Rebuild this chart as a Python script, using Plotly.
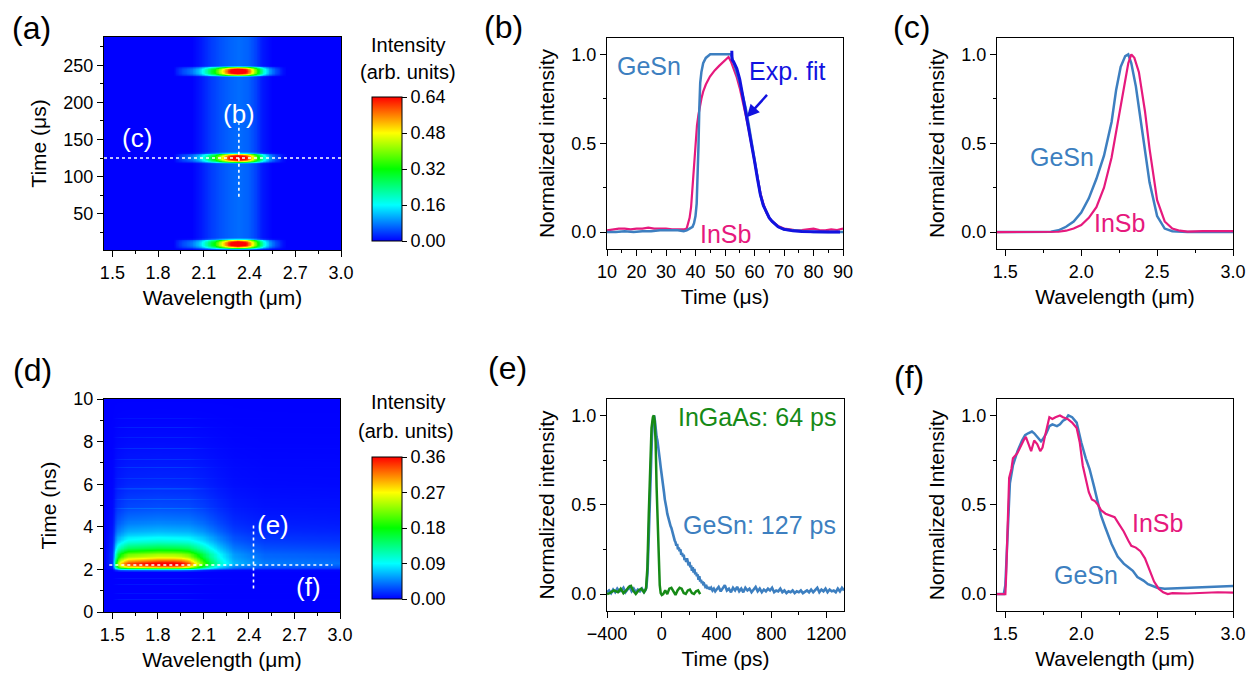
import numpy as np
import plotly.graph_objects as go

# ---------------- data ----------------
# (a) streak map, GeSn detector, microsecond pulses
a_band_wl = [1.445, 2.02, 2.08, 2.14, 2.2, 2.27, 2.33, 2.39, 2.44, 2.48, 2.55, 3.0]
a_band_val = [0.0, 0.0, 0.015, 0.035, 0.05, 0.062, 0.068, 0.06, 0.04, 0.015, 0.0, 0.0]
a_spot_wl = [1.445, 1.9, 1.93, 1.97, 2.02, 2.07, 2.12, 2.17, 2.22, 2.27, 2.32, 2.37, 2.41, 2.45, 2.49, 2.53,
             2.57, 2.61, 2.64, 3.0]
a_spot_val = [0.0, 0.0, 0.04, 0.08, 0.12, 0.18, 0.3, 0.45, 0.68, 0.9, 1.0, 0.92, 0.72, 0.48, 0.28, 0.15, 0.08,
              0.02, 0.0, 0.0]
a_pulse_centers = [9.5, 125.5, 242.0]
a_pulse_dt = [-8, -6, -4.5, -3, 0, 3, 4.5, 6, 8]
a_pulse_w = [0.0, 0.2, 0.7, 0.95, 1.0, 0.95, 0.7, 0.2, 0.0]
a_zmax = 0.64

# (b) temporal traces at 2.33 um
b_time_gesn = [10, 13, 16, 19, 22, 25, 28, 31, 34, 36, 37, 38, 39, 39.5, 40, 40.4, 40.7, 41, 41.3, 41.6, 42,
               42.6, 43.5, 45, 47, 49, 51, 52, 53, 54, 55, 56, 57, 58, 59, 60, 61, 62, 63, 64, 65, 66, 68, 70,
               73, 76, 80, 84, 88, 90]
b_gesn = [0.0, 0.0, 0.005, 0.0, 0.005, 0.005, 0.01, 0.01, 0.01, 0.005, 0.01, 0.02, 0.03, 0.05, 0.09, 0.16,
          0.3, 0.48, 0.7, 0.84, 0.9, 0.95, 0.98, 1.0, 1.0, 1.0, 1.0, 1.0, 0.95, 0.9, 0.84, 0.77, 0.7, 0.61,
          0.51, 0.4, 0.3, 0.21, 0.15, 0.11, 0.08, 0.06, 0.03, 0.015, 0.01, 0.005, 0.0, 0.0, 0.0, 0.0]
b_time_insb = [10, 12, 14, 16, 18, 20, 22, 24, 26, 28, 30, 32, 34, 36, 37, 38, 38.5, 39, 39.5, 40, 40.5, 41,
               41.5, 42, 42.6, 43.5, 44.9, 46.5, 48, 49.4, 50.5, 51.2, 52, 53, 54, 55, 56, 57, 58, 59, 60, 61,
               62, 63, 64, 65, 66, 68, 70, 72, 74, 76, 78, 80, 82, 84, 86, 88, 90]
b_insb = [0.01, 0.015, 0.02, 0.02, 0.015, 0.02, 0.02, 0.025, 0.02, 0.02, 0.02, 0.015, 0.015, 0.015, 0.02,
          0.08, 0.14, 0.25, 0.38, 0.5, 0.6, 0.66, 0.71, 0.75, 0.79, 0.83, 0.875, 0.91, 0.935, 0.958, 0.975,
          0.985, 0.96, 0.92, 0.87, 0.81, 0.74, 0.66, 0.58, 0.49, 0.39, 0.3, 0.22, 0.16, 0.11, 0.08, 0.06,
          0.035, 0.02, 0.015, 0.01, 0.012, 0.015, 0.02, 0.012, 0.01, 0.015, 0.012, 0.02]
b_time_fit = [52.3, 52.4, 53, 54, 55, 56, 57, 58, 59, 60, 61, 62, 63, 64, 65, 66, 68, 70, 73, 76, 80, 85, 89]
b_fit = [1.02, 0.97, 0.955, 0.92, 0.86, 0.77, 0.69, 0.6, 0.51, 0.4, 0.3, 0.21, 0.15, 0.11, 0.08, 0.06, 0.03,
         0.016, 0.007, 0.003, 0.0, 0.0, 0.0]

# (c) spectra at 125 us
c_wl_gesn = [1.445, 1.6, 1.75, 1.8, 1.85, 1.9, 1.95, 2.0, 2.05, 2.1, 2.15, 2.2, 2.23, 2.26, 2.29, 2.31, 2.33,
             2.36, 2.4, 2.45, 2.5, 2.55, 2.6, 2.7, 2.8, 3.0]
c_gesn = [0.0, 0.0, 0.0, 0.002, 0.01, 0.03, 0.06, 0.11, 0.19, 0.3, 0.43, 0.62, 0.8, 0.93, 0.99, 1.0, 0.95,
          0.82, 0.58, 0.28, 0.09, 0.02, 0.005, 0.0, 0.0, 0.0]
c_wl_insb = [1.445, 1.8, 1.85, 1.9, 1.95, 2.0, 2.05, 2.1, 2.15, 2.2, 2.25, 2.28, 2.31, 2.33, 2.35, 2.38, 2.42,
             2.45, 2.5, 2.55, 2.6, 2.65, 2.7, 2.8, 3.0]
c_insb = [0.0, 0.0, 0.002, 0.008, 0.02, 0.04, 0.08, 0.14, 0.25, 0.42, 0.66, 0.82, 0.95, 1.0, 0.98, 0.9, 0.68,
          0.47, 0.18, 0.06, 0.02, 0.008, 0.003, 0.005, 0.005]

# (d) streak map, picosecond pulses
d_core_wl = [1.445, 1.5, 1.52, 1.55, 1.6, 1.7, 1.8, 1.9, 1.95, 2.0, 2.05, 2.1, 2.15, 2.2, 2.3, 2.5, 3.0]
d_core_val = [0.0, 0.0, 0.35, 0.75, 0.88, 0.93, 0.98, 1.0, 0.97, 0.85, 0.62, 0.38, 0.22, 0.13, 0.07, 0.05, 0.05]
d_core_t = [0.0, 1.9, 2.0, 2.1, 2.2, 2.3, 2.45, 2.6, 2.8, 3.0, 3.3, 3.6, 10.0]
d_core_tval = [0.0, 0.0, 0.3, 0.85, 1.0, 0.93, 0.72, 0.5, 0.3, 0.15, 0.05, 0.0, 0.0]
d_tail_wl = [1.445, 1.5, 1.53, 1.6, 1.8, 2.0, 2.1, 2.2, 2.3, 2.5, 3.0]
d_tail_val = [0.0, 0.05, 0.28, 0.4, 0.43, 0.41, 0.34, 0.23, 0.14, 0.09, 0.08]
d_tail_t = [0.0, 1.95, 2.05, 2.3, 2.7, 3.0, 3.4, 3.8, 4.3, 5.0, 6.0, 7.0, 8.0, 9.0, 10.0]
d_tail_tval = [0.0, 0.0, 0.5, 1.0, 0.95, 0.8, 0.6, 0.42, 0.28, 0.17, 0.09, 0.055, 0.025, 0.008, 0.0]
d_streak_t = [0.6, 0.9, 1.3, 1.6, 4.9, 5.3, 5.8, 6.3, 6.8, 7.2, 7.7, 8.2, 8.7, 9.1]
d_streak_amp = [0.01, 0.007, 0.008, 0.007, 0.012, 0.01, 0.012, 0.008, 0.011, 0.01, 0.012, 0.008, 0.01, 0.006]
d_zmax = 0.36

# (e) temporal traces at 2.45 um
e_time_gesn = [-400, -385, -370, -355, -340, -325, -310, -295, -280, -265, -250, -235, -220, -205, -190, -175,
               -160, -145, -130, -120, -112, -104, -96, -88, -80, -72, -64, -56, -50, -44, -38, -32, -26, -20,
               -14, -8, -2, 4, 10, 16, 22, 28, 34, 40, 46, 52, 58, 64, 70, 76, 82, 88, 94, 100, 106, 112, 118,
               124, 130, 136, 142, 148, 154, 160, 166, 172, 178, 184, 190, 196, 202, 208, 214, 220, 226, 232,
               238, 244, 250, 256, 262, 268, 274, 280, 286, 292, 298, 304, 310, 318, 326, 334, 342, 350, 360,
               370, 380, 390, 400, 415, 430, 445, 460, 475, 490, 505, 520, 535, 550, 565, 580, 595, 610, 625,
               640, 655, 670, 685, 700, 715, 730, 745, 760, 775, 790, 805, 820, 835, 850, 865, 880, 895, 910,
               925, 940, 955, 970, 985, 1000, 1015, 1030, 1045, 1060, 1075, 1090, 1105, 1120, 1135, 1150, 1165,
               1180, 1195, 1210, 1225, 1240, 1255, 1270, 1285, 1300, 1315, 1330]
e_gesn = [0.01, 0.02, 0.005, 0.025, 0.01, 0.03, 0.015, 0.02, 0.035, 0.01, 0.025, 0.04, 0.015, 0.03, 0.01, 0.025,
          0.015, 0.03, 0.01, 0.02, 0.04, 0.12, 0.3, 0.52, 0.72, 0.88, 0.97, 1.0, 0.97, 0.9, 0.88, 0.86, 0.83,
          0.78, 0.75, 0.71, 0.68, 0.64, 0.6, 0.57, 0.53, 0.51, 0.48, 0.45, 0.43, 0.41, 0.4, 0.38, 0.37, 0.35,
          0.34, 0.31, 0.3, 0.29, 0.27, 0.28, 0.25, 0.26, 0.24, 0.25, 0.22, 0.23, 0.21, 0.22, 0.19, 0.2, 0.18,
          0.2, 0.17, 0.16, 0.18, 0.15, 0.16, 0.13, 0.15, 0.12, 0.14, 0.11, 0.12, 0.1, 0.11, 0.08, 0.1, 0.07,
          0.08, 0.06, 0.07, 0.05, 0.055, 0.04, 0.045, 0.03, 0.04, 0.025, 0.035, 0.02, 0.03, 0.015, 0.025,
          0.04, 0.015, 0.035, 0.05, 0.02, 0.03, 0.01, 0.035, 0.02, 0.04, 0.015, 0.03, 0.01, 0.035, 0.02, 0.03,
          0.01, 0.025, 0.04, 0.015, 0.03, 0.01, 0.025, 0.015, 0.03, 0.02, 0.035, 0.01, 0.02, 0.015, 0.03,
          0.01, 0.02, 0.005, 0.015, 0.01, 0.02, 0.005, 0.015, 0.01, 0.02, 0.005, 0.015, 0.02, 0.01, 0.025,
          0.01, 0.02, 0.035, 0.01, 0.025, 0.015, 0.03, 0.01, 0.025, 0.015, 0.02, 0.01, 0.03, 0.015, 0.035, 0.02]
e_time_ingaas = [-400, -380, -350, -320, -300, -280, -260, -240, -225, -210, -190, -170, -150, -130, -115, -105,
                 -95, -85, -75, -65, -58, -52, -45, -38, -30, -22, -15, -8, 0, 10, 25, 40, 55, 70, 85, 100, 115,
                 130, 145, 160, 175, 190, 205, 220, 235, 250, 265, 280]
e_ingaas = [0.0, 0.005, 0.02, 0.01, 0.03, 0.005, 0.02, 0.04, 0.045, 0.02, 0.0, 0.02, 0.03, 0.01, 0.03, 0.15,
            0.45, 0.75, 0.93, 0.99, 1.0, 0.97, 0.85, 0.6, 0.35, 0.15, 0.05, 0.005, -0.005, 0.0, 0.02, 0.0,
            0.03, 0.035, 0.015, -0.005, 0.02, 0.035, 0.03, 0.005, 0.0, 0.02, 0.025, 0.005, 0.0, 0.015, 0.02, 0.0]

# (f) spectra at 2.2 ns
f_wl_gesn = [1.445, 1.49, 1.5, 1.51, 1.52, 1.53, 1.55, 1.58, 1.61, 1.63, 1.65, 1.675, 1.69, 1.71, 1.735, 1.75,
             1.77, 1.79, 1.81, 1.84, 1.86, 1.88, 1.9, 1.915, 1.94, 1.97, 2.0, 2.03, 2.055, 2.085, 2.1, 2.13,
             2.16, 2.2, 2.24, 2.28, 2.31, 2.34, 2.37, 2.41, 2.44, 2.5, 2.55, 2.6, 2.7, 2.8, 2.9, 3.0]
f_gesn = [0.0, 0.0, 0.05, 0.25, 0.5, 0.62, 0.72, 0.8, 0.86, 0.89, 0.9, 0.91, 0.9, 0.88, 0.855, 0.87, 0.9,
          0.94, 0.95, 0.94, 0.95, 0.97, 0.98, 1.0, 0.99, 0.96, 0.85, 0.76, 0.7, 0.6, 0.55, 0.44, 0.37, 0.28,
          0.21, 0.17, 0.15, 0.13, 0.095, 0.075, 0.055, 0.035, 0.03, 0.032, 0.035, 0.038, 0.04, 0.045]
f_wl_insb = [1.445, 1.5, 1.505, 1.515, 1.525, 1.54, 1.55, 1.58, 1.6, 1.62, 1.635, 1.65, 1.67, 1.69, 1.71, 1.73,
             1.745, 1.76, 1.78, 1.79, 1.81, 1.83, 1.86, 1.88, 1.91, 1.94, 1.97, 1.99, 2.01, 2.03, 2.05, 2.07,
             2.09, 2.11, 2.13, 2.16, 2.19, 2.22, 2.25, 2.28, 2.31, 2.33, 2.36, 2.39, 2.42, 2.45, 2.48, 2.51,
             2.54, 2.57, 2.6, 2.7, 2.8, 2.85, 2.9, 3.0]
f_insb = [0.0, 0.0, 0.1, 0.45, 0.65, 0.7, 0.76, 0.79, 0.83, 0.86, 0.88, 0.85, 0.8, 0.86, 0.84, 0.8, 0.82,
          0.88, 0.95, 0.99, 0.98, 0.99, 1.0, 0.99, 0.98, 0.96, 0.93, 0.85, 0.72, 0.64, 0.57, 0.53, 0.52, 0.5,
          0.47, 0.45, 0.44, 0.43, 0.39, 0.35, 0.3, 0.27, 0.26, 0.24, 0.2, 0.13, 0.07, 0.03, 0.01, 0.0, 0.005,
          0.003, 0.005, 0.01, 0.01, 0.008]

# ---------------- styling ----------------
W, H = 1255, 675
FONT = "Arial, 'Liberation Sans', sans-serif"
C_GESN = "#3d7fc0"
C_INSB = "#e6197d"
C_FIT = "#1212e0"
C_INGAAS = "#168a16"
RAINBOW = [[0.0, "#0000ff"], [0.25, "#00ffff"], [0.5, "#00ff00"], [0.75, "#ffff00"], [1.0, "#ff0000"]]


def xdom(left, right):
    return [left / W, right / W]


def ydom(top, bottom):
    return [1 - bottom / H, 1 - top / H]


def axis(dom, rng, dtick, tick0, mdtick, mtick0, title, fmt, anchor, stand=8, tsize=18):
    return dict(
        domain=dom, range=rng, anchor=anchor, automargin=False, showline=True, linecolor="black",
        linewidth=1.3, mirror=True, ticks="outside", ticklen=6, tickwidth=1.3, tickcolor="black",
        dtick=dtick, tick0=tick0, tickformat=fmt, showgrid=False, zeroline=False,
        tickfont=dict(family=FONT, size=tsize, color="black"),
        minor=dict(ticks="outside", ticklen=3, tickwidth=1.2, tickcolor="black", dtick=mdtick, tick0=mtick0),
        title=dict(text=title, font=dict(family=FONT, size=21, color="black"), standoff=stand),
    )


def colorbar(top, bottom, maxv):
    vals = [maxv * k / 4 for k in range(5)]
    return dict(
        x=372 / W, xanchor="left", xpad=0, y=1 - (top + bottom) / 2 / H, yanchor="middle", ypad=0,
        len=(bottom - top) / H, lenmode="fraction", thickness=30, thicknessmode="pixels",
        outlinewidth=1, outlinecolor="black", tickvals=vals, ticktext=[f"{v:.2f}" for v in vals],
        ticks="outside", ticklen=5, tickcolor="black",
        tickfont=dict(family=FONT, size=18, color="black"),
    )


fig = go.Figure()

# ---- (a) heatmap ----
wl_grid = np.round(np.arange(1.44, 3.0051, 0.01), 3)
ta_grid = np.arange(0.0, 289.0, 1.0)
band_a = np.interp(wl_grid, a_band_wl, a_band_val)
spot_a = np.interp(wl_grid, a_spot_wl, a_spot_val)
pulse_a = np.zeros_like(ta_grid)
for c in a_pulse_centers:
    pulse_a += np.interp(ta_grid - c, a_pulse_dt, a_pulse_w, left=0.0, right=0.0)
z_a = band_a[None, :] + a_zmax * pulse_a[:, None] * spot_a[None, :]
fig.add_trace(go.Heatmap(x=wl_grid, y=ta_grid, z=np.round(z_a, 4), colorscale=RAINBOW, zmin=0, zmax=a_zmax,
                         zsmooth="best", colorbar=colorbar(97, 241, a_zmax), xaxis="x", yaxis="y",
                         hoverinfo="skip"))

# ---- (d) heatmap ----
td_grid = np.round(np.arange(0.0, 10.001, 0.05), 3)
core_w = np.interp(wl_grid, d_core_wl, d_core_val)
core_t = np.interp(td_grid, d_core_t, d_core_tval)
tail_w = np.interp(wl_grid, d_tail_wl, d_tail_val)
tail_t = np.interp(td_grid, d_tail_t, d_tail_tval)
streak_t = np.zeros_like(td_grid)
for ts, amp in zip(d_streak_t, d_streak_amp):
    streak_t[np.argmin(np.abs(td_grid - ts))] += amp
z_d = d_zmax * (0.65 * core_t[:, None] * core_w[None, :] + tail_t[:, None] * tail_w[None, :]) \
    + streak_t[:, None] * core_w[None, :]
fig.add_trace(go.Heatmap(x=wl_grid, y=td_grid, z=np.round(z_d, 4), colorscale=RAINBOW, zmin=0, zmax=d_zmax,
                         zsmooth="best", colorbar=colorbar(457, 599, d_zmax), xaxis="x4", yaxis="y4",
                         hoverinfo="skip"))

# ---- line panels ----
def line(x, y, color, width, ax):
    return go.Scatter(x=x, y=y, mode="lines", line=dict(color=color, width=width), xaxis="x" + ax,
                      yaxis="y" + ax, showlegend=False, hoverinfo="skip")


fig.add_trace(line(b_time_insb, b_insb, C_INSB, 2.2, "2"))
fig.add_trace(line(b_time_gesn, b_gesn, C_GESN, 2.5, "2"))
fig.add_trace(line(b_time_fit, b_fit, C_FIT, 3, "2"))

fig.add_trace(line(c_wl_gesn, c_gesn, C_GESN, 2.5, "3"))
fig.add_trace(line(c_wl_insb, c_insb, C_INSB, 2.2, "3"))

fig.add_trace(line(e_time_gesn, e_gesn, C_GESN, 2.6, "5"))
fig.add_trace(line(e_time_ingaas, e_ingaas, C_INGAAS, 2.5, "5"))

fig.add_trace(line(f_wl_gesn, f_gesn, C_GESN, 2.5, "6"))
fig.add_trace(line(f_wl_insb, f_insb, C_INSB, 2.2, "6"))

WL_TITLE = "Wavelength (μm)"
NI = [-0.095, 1.092]
layout_axes = dict(
    xaxis=axis(xdom(104, 341), [1.445, 3.0], 0.3, 1.5, 0.15, 1.35, WL_TITLE, ".1f", "y"),
    yaxis=axis(ydom(37, 250), [1.2, 288], 50, 0, 25, 0, "Time (μs)", "d", "x", stand=10),
    xaxis2=axis(xdom(607, 843), [10, 90], 10, 10, 5, 5, "Time (μs)", "d", "y2"),
    yaxis2=axis(ydom(38, 249), NI, 0.5, 0, 0.25, 0, "Normalized intensity", ".1f", "x2", stand=10),
    xaxis3=axis(xdom(997, 1233), [1.445, 3.0], 0.5, 1.5, 0.25, 1.25, WL_TITLE, ".1f", "y3"),
    yaxis3=axis(ydom(38, 249), NI, 0.5, 0, 0.25, 0, "Normalized intensity", ".1f", "x3", stand=10),
    xaxis4=axis(xdom(104, 340), [1.445, 3.0], 0.3, 1.5, 0.15, 1.35, WL_TITLE, ".1f", "y4"),
    yaxis4=axis(ydom(399, 612), [0, 10], 2, 0, 1, 0, "Time (ns)", "d", "x4", stand=10),
    xaxis5=axis(xdom(607, 844), [-400, 1330], 400, -400, 200, -400, "Time (ps)", "d", "y5"),
    yaxis5=axis(ydom(399, 611), NI, 0.5, 0, 0.25, 0, "Normalized intensity", ".1f", "x5", stand=10),
    xaxis6=axis(xdom(997, 1233), [1.445, 3.0], 0.5, 1.5, 0.25, 1.25, WL_TITLE, ".1f", "y6"),
    yaxis6=axis(ydom(399, 611), NI, 0.5, 0, 0.25, 0, "Normalized Intensity", ".1f", "x6", stand=10),
)


def note(text, x, y, xref, yref, color="black", size=25, xanchor="center", **kw):
    return dict(text=text, x=x, y=y, xref=xref, yref=yref, showarrow=False, xanchor=xanchor,
                yanchor="middle", font=dict(family=FONT, size=size, color=color), **kw)


annotations = [
    # panel letters
    note("(a)", 31 / W, 1 - 28 / H, "paper", "paper", size=32),
    note("(b)", 503 / W, 1 - 27 / H, "paper", "paper", size=32),
    note("(c)", 912 / W, 1 - 27 / H, "paper", "paper", size=32),
    note("(d)", 32 / W, 1 - 370 / H, "paper", "paper", size=32),
    note("(e)", 507 / W, 1 - 368 / H, "paper", "paper", size=32),
    note("(f)", 909 / W, 1 - 377 / H, "paper", "paper", size=32),
    # colorbar titles
    note("Intensity", 407.5 / W, 1 - 45 / H, "paper", "paper", size=20),
    note("(arb. units)", 407.5 / W, 1 - 72 / H, "paper", "paper", size=20),
    note("Intensity", 408 / W, 1 - 402 / H, "paper", "paper", size=20),
    note("(arb. units)", 406 / W, 1 - 431 / H, "paper", "paper", size=20),
    # markers on the maps
    note("(b)", 2.33, 185, "x", "y", color="white", size=26),
    note("(c)", 1.66, 152, "x", "y", color="white", size=26),
    note("(e)", 2.56, 4.07, "x4", "y4", color="white", size=26),
    note("(f)", 2.795, 1.18, "x4", "y4", color="white", size=26),
    # series labels
    note("GeSn", 24.2, 0.934, "x2", "y2", color=C_GESN),
    note("Exp. fit", 70.9, 0.906, "x2", "y2", color=C_FIT),
    note("InSb", 50, -0.01, "x2", "y2", color=C_INSB),
    note("GeSn", 1.87, 0.42, "x3", "y3", color=C_GESN),
    note("InSb", 2.25, 0.05, "x3", "y3", color=C_INSB),
    note("InGaAs: 64 ps", 1285, 0.99, "x5", "y5", color=C_INGAAS, xanchor="right"),
    note("GeSn: 127 ps", 1285, 0.385, "x5", "y5", color=C_GESN, xanchor="right"),
    note("InSb", 2.5, 0.40, "x6", "y6", color=C_INSB),
    note("GeSn", 2.03, 0.106, "x6", "y6", color=C_GESN),
    # arrow to the fit
    dict(x=57.4, y=0.646, ax=64.7, ay=0.78, xref="x2", yref="y2", axref="x2", ayref="y2", text="",
         showarrow=True, arrowhead=2, arrowsize=1, arrowwidth=2.5, arrowcolor=C_FIT),
]

DASH = dict(color="white", width=1.6, dash="3px,3px")
shapes = [
    dict(type="line", x0=1.445, x1=3.0, y0=125, y1=125, xref="x", yref="y", line=DASH),
    dict(type="line", x0=2.33, x1=2.33, y0=73, y1=172, xref="x", yref="y", line=DASH),
    dict(type="line", x0=1.48, x1=2.95, y0=2.21, y1=2.21, xref="x4", yref="y4", line=DASH),
    dict(type="line", x0=2.43, x1=2.43, y0=1.1, y1=4.08, xref="x4", yref="y4", line=DASH),
]

fig.update_layout(
    width=W, height=H, margin=dict(l=0, r=0, t=0, b=0, autoexpand=False),
    paper_bgcolor="white", plot_bgcolor="white",
    font=dict(family=FONT, color="black"), showlegend=False,
    annotations=annotations, shapes=shapes, **layout_axes,
)

fig.write_html("out.html")
